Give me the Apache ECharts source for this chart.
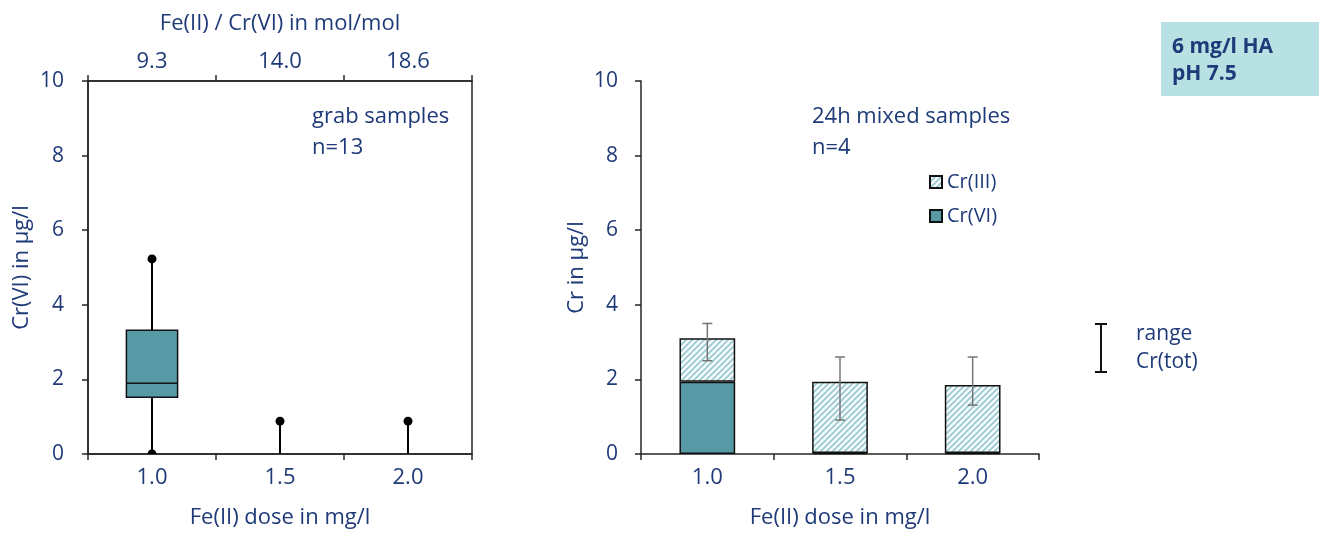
<!DOCTYPE html>
<html><head><meta charset="utf-8">
<script src="https://cdn.jsdelivr.net/npm/echarts@6/dist/echarts.min.js"></script>
<style>html,body{margin:0;padding:0;background:#fff}#c{width:1319px;height:536px}</style>
</head><body><div id="c"></div>
<script>
// ---- data ----
const categories = ['1.0', '1.5', '2.0'];
const ratioLabels = ['9.3', '14.0', '18.6'];
const boxMin = [0, 0, 0];
const boxQ1 = [1.52, null, null];
const boxMedian = [1.9, null, null];
const boxQ3 = [3.32, null, null];
const boxMax = [5.23, 0.88, 0.88];
const dotMin = [0, null, null];
const dotMax = [5.23, 0.88, 0.88];
const crVI = [1.94, 0.03, 0.03];
const crIII = [1.16, 1.91, 1.82];
const rangeLow = [2.5, 0.91, 1.31];
const rangeHigh = [3.5, 2.6, 2.6];

// ---- styles ----
const FONT = 'Open Sans';
const NAVY = '#1f3a78';
const TEAL = '#579aa6';
const AX = '#262626';
const FS = 22;

// hatch pattern
const pc = document.createElement('canvas');
pc.width = 6; pc.height = 6;
const g = pc.getContext('2d');
g.fillStyle = '#fff'; g.fillRect(0, 0, 6, 6);
g.strokeStyle = '#a3cfd7'; g.lineWidth = 2.2;
g.beginPath();
g.moveTo(-1, 7); g.lineTo(7, -1);
g.moveTo(-4, 4); g.lineTo(4, -4);
g.moveTo(2, 10); g.lineTo(10, 2);
g.stroke();
const HATCH = { image: pc, repeat: 'repeat' };

const chart = echarts.init(document.getElementById('c'));

const boxData = categories.map((c, i) => [i, boxMin[i], boxQ1[i], boxMedian[i], boxQ3[i], boxMax[i]]);
const dotData = [];
categories.forEach((c, i) => {
  if (dotMin[i] != null) dotData.push([i, dotMin[i]]);
  if (dotMax[i] != null) dotData.push([i, dotMax[i]]);
});
const errData = categories.map((c, i) => [i, rangeLow[i], rangeHigh[i]]);

function yAxisCfg(grid, name, gap, margin) {
  return {
    type: 'value', gridIndex: grid, min: 0, max: 10, interval: 2,
    name: name, nameLocation: 'middle', nameGap: gap,
    nameTextStyle: { color: NAVY, fontFamily: FONT, fontSize: FS },
    axisLine: { show: true, lineStyle: { color: AX, width: 1.5 } },
    axisTick: { show: true, length: 6, lineStyle: { color: AX, width: 1.5 } },
    axisLabel: { color: NAVY, fontFamily: FONT, fontSize: 21, margin: margin },
    splitLine: { show: false }
  };
}
function xAxisCfg(grid, data, pos, name, gap, margin) {
  return {
    type: 'category', gridIndex: grid, data: data, position: pos,
    name: name, nameLocation: 'middle', nameGap: gap,
    nameTextStyle: { color: NAVY, fontFamily: FONT, fontSize: FS },
    axisLine: { show: true, onZero: false, lineStyle: { color: AX, width: 1.5 } },
    axisTick: { show: true, length: 6, lineStyle: { color: AX, width: 1.5 } },
    axisLabel: { color: NAVY, fontFamily: FONT, fontSize: FS, margin: margin },
    splitLine: { show: false }
  };
}

const option = {
  animation: false,
  backgroundColor: '#fff',
  textStyle: { fontFamily: FONT },
  grid: [
    { left: 88, top: 81, width: 384, height: 373, show: true, borderColor: AX, borderWidth: 1.5, backgroundColor: 'transparent' },
    { left: 641, top: 81, width: 398, height: 373 }
  ],
  xAxis: [
    xAxisCfg(0, categories, 'bottom', 'Fe(II) dose in mg/l', 53, 13),
    xAxisCfg(0, ratioLabels, 'top', 'Fe(II) / Cr(VI) in mol/mol', 46, 8),
    xAxisCfg(1, categories, 'bottom', 'Fe(II) dose in mg/l', 53, 13)
  ],
  yAxis: [
    yAxisCfg(0, 'Cr(VI) in µg/l', 55, 24),
    yAxisCfg(1, 'Cr in µg/l', 53, 23)
  ],
  legend: {
    orient: 'vertical', left: 924, top: 167, itemWidth: 12, itemHeight: 12, itemGap: 14,
    icon: 'rect',
    textStyle: { color: NAVY, fontFamily: FONT, fontSize: 20, padding: [0, 0, 0, 0] },
    data: ['Cr(III)', 'Cr(VI)']
  },
  series: [
    {
      type: 'custom', name: 'box', xAxisIndex: 0, yAxisIndex: 0, data: boxData, z: 3, clip: true,
      renderItem: function (params, api) {
        const x = api.value(0);
        const bw = api.size([1, 0])[0] * 0.4;
        const vMin = api.value(1), vQ1 = api.value(2), vMed = api.value(3), vQ3 = api.value(4), vMax = api.value(5);
        const pMin = api.coord([x, vMin]);
        const pMax = api.coord([x, vMax]);
        const ls = { stroke: '#000', lineWidth: 2 };
        const ch = [];
        if (isNaN(vQ1) || vQ1 == null) {
          ch.push({ type: 'line', shape: { x1: pMin[0], y1: pMin[1], x2: pMax[0], y2: pMax[1] }, style: ls });
        } else {
          const p1 = api.coord([x, vQ1]), pm = api.coord([x, vMed]), p3 = api.coord([x, vQ3]);
          ch.push({ type: 'line', shape: { x1: pMin[0], y1: pMin[1], x2: p1[0], y2: p1[1] }, style: ls });
          ch.push({ type: 'line', shape: { x1: p3[0], y1: p3[1], x2: pMax[0], y2: pMax[1] }, style: ls });
          ch.push({ type: 'rect', shape: { x: p1[0] - bw / 2, y: p3[1], width: bw, height: p1[1] - p3[1] }, style: { fill: TEAL, stroke: '#111', lineWidth: 1.5 } });
          ch.push({ type: 'line', shape: { x1: pm[0] - bw / 2, y1: pm[1], x2: pm[0] + bw / 2, y2: pm[1] }, style: { stroke: '#111', lineWidth: 1.5 } });
        }
        return { type: 'group', children: ch };
      }
    },
    {
      type: 'custom', name: 'dots', xAxisIndex: 0, yAxisIndex: 0, data: dotData, z: 4, clip: true,
      renderItem: function (params, api) {
        const p = api.coord([api.value(0), api.value(1)]);
        return { type: 'circle', shape: { cx: p[0], cy: p[1], r: 4.5 }, style: { fill: '#000' } };
      }
    },
    {
      type: 'bar', name: 'Cr(VI)', xAxisIndex: 2, yAxisIndex: 1, stack: 'cr', data: crVI, barWidth: '42%',
      itemStyle: { color: TEAL, borderColor: '#111', borderWidth: 1.5 }
    },
    {
      type: 'bar', name: 'Cr(III)', xAxisIndex: 2, yAxisIndex: 1, stack: 'cr', data: crIII, barWidth: '42%',
      itemStyle: { color: HATCH, borderColor: '#111', borderWidth: 1.5 }
    },
    {
      type: 'custom', name: 'range', xAxisIndex: 2, yAxisIndex: 1, data: errData, z: 5,
      renderItem: function (params, api) {
        const x = api.value(0);
        const lo = api.coord([x, api.value(1)]), hi = api.coord([x, api.value(2)]);
        const cw = 5;
        const st = { stroke: '#767676', lineWidth: 1.5 };
        return {
          type: 'group', children: [
            { type: 'line', shape: { x1: lo[0], y1: lo[1], x2: hi[0], y2: hi[1] }, style: st },
            { type: 'line', shape: { x1: lo[0] - cw, y1: lo[1], x2: lo[0] + cw, y2: lo[1] }, style: st },
            { type: 'line', shape: { x1: hi[0] - cw, y1: hi[1], x2: hi[0] + cw, y2: hi[1] }, style: st }
          ]
        };
      }
    }
  ],
  graphic: [
    { type: 'text', left: 312, top: 101, style: { text: 'grab samples\nn=13', fill: NAVY, font: '22px "Open Sans"', lineHeight: 31 } },
    { type: 'text', left: 812, top: 101, style: { text: '24h mixed samples\nn=4', fill: NAVY, font: '22px "Open Sans"', lineHeight: 31 } },
    { type: 'rect', shape: { x: 1161, y: 22, width: 158, height: 74 }, style: { fill: '#b8e1e4' } },
    { type: 'text', left: 1172, top: 34, style: { text: '6 mg/l HA\npH 7.5', fill: NAVY, font: 'bold 21px "Open Sans"', lineHeight: 27 } },
    { type: 'line', shape: { x1: 1101, y1: 324, x2: 1101, y2: 372 }, style: { stroke: '#111', lineWidth: 2 } },
    { type: 'line', shape: { x1: 1095, y1: 324, x2: 1107, y2: 324 }, style: { stroke: '#111', lineWidth: 2 } },
    { type: 'line', shape: { x1: 1095, y1: 372, x2: 1107, y2: 372 }, style: { stroke: '#111', lineWidth: 2 } },
    { type: 'text', left: 1136, top: 320, style: { text: 'range\nCr(tot)', fill: NAVY, font: '21px "Open Sans"', lineHeight: 28 } }
  ]
};
chart.setOption(option);
</script>
</body></html>
